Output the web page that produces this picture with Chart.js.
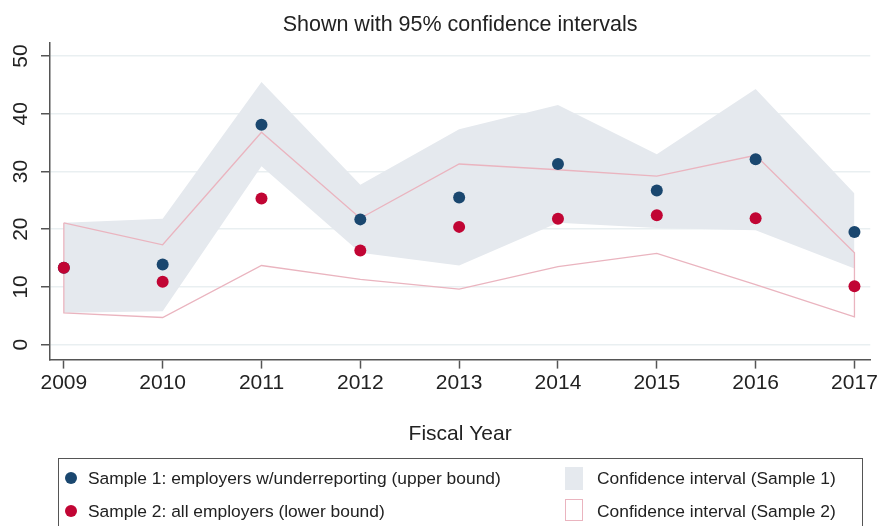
<!DOCTYPE html>
<html>
<head>
<meta charset="utf-8">
<script src="https://cdn.jsdelivr.net/npm/chart.js@4.4.1/dist/chart.umd.min.js"></script>
<style>
  html, body { margin: 0; padding: 0; background: #fff; }
  #wrap { position: relative; width: 880px; height: 526px; overflow: hidden; font-family: "Liberation Sans", Arial, sans-serif; }
  #legend { position: absolute; left: 58px; top: 458px; width: 805px; height: 90px; border: 1px solid #555; box-sizing: border-box; }
  .txt { position: absolute; font-size: 17.4px; color: #222; line-height: 20px; white-space: nowrap; }
  .dot { position: absolute; width: 12px; height: 12px; border-radius: 50%; }
  .sq { position: absolute; width: 18px; height: 23px; box-sizing: border-box; }
</style>
</head>
<body>
<div id="wrap">
  <canvas id="chart" width="880" height="526"></canvas>
  <div id="legend">
    <span class="dot" style="left:6px; top:13px; background:#1a476f;"></span>
    <span class="txt" style="left:29px; top:9px;">Sample 1: employers w/underreporting (upper bound)</span>
    <span class="dot" style="left:6px; top:46px; background:#c10534;"></span>
    <span class="txt" style="left:29px; top:42px;">Sample 2: all employers (lower bound)</span>
    <span class="sq" style="left:506px; top:8px; background:#e5e9ee;"></span>
    <span class="txt" style="left:538px; top:9px;">Confidence interval (Sample 1)</span>
    <span class="sq" style="left:506px; top:40px; height:22px; border:1px solid #eab4bf;"></span>
    <span class="txt" style="left:538px; top:42px;">Confidence interval (Sample 2)</span>
  </div>
</div>
<script>
// fiscal years and y ticks
const years = [2009, 2010, 2011, 2012, 2013, 2014, 2015, 2016, 2017];
const yTicks = [0, 10, 20, 30, 40, 50];

// Sample 1: employers w/underreporting (upper bound)
const s1 = [13.3, 13.9, 38.1, 21.7, 25.5, 31.3, 26.7, 32.1, 19.5];
const s1Upper = [21.1, 21.8, 45.5, 27.7, 37.3, 41.5, 33.0, 44.3, 26.2];
const s1Lower = [5.5, 5.8, 30.9, 15.9, 13.7, 21.1, 20.2, 19.8, 13.2];

// Sample 2: all employers (lower bound)
const s2 = [13.3, 10.9, 25.3, 16.3, 20.4, 21.8, 22.4, 21.9, 10.1];
const s2Upper = [21.1, 17.3, 36.8, 21.9, 31.3, 30.3, 29.2, 32.8, 15.9];
const s2Lower = [5.5, 4.7, 13.7, 11.3, 9.6, 13.5, 15.8, 10.4, 4.8];

const FONT = '"Liberation Sans", Arial, sans-serif';
Chart.defaults.font.family = FONT;
Chart.defaults.color = '#222';

const pts = arr => years.map((x, i) => ({ x: x, y: arr[i] }));

// closed outline for the sample 2 interval
const s2Poly = pts(s2Upper).concat(pts(s2Lower).reverse());
s2Poly.push(s2Poly[0]);

// y labels are drawn rotated, like the original
const yLabels = {
    id: 'yLabels',
    afterDraw(chart) {
        const c = chart.ctx;
        const s = chart.scales.y;
        c.save();
        c.font = '21px ' + FONT;
        c.fillStyle = '#222';
        c.textAlign = 'center';
        c.textBaseline = 'middle';
        yTicks.forEach(v => {
            c.save();
            c.translate(21, s.getPixelForValue(v));
            c.rotate(-Math.PI / 2);
            c.fillText(String(v), 0, 0);
            c.restore();
        });
        c.restore();
    }
};

const ctx = document.getElementById('chart').getContext('2d');
const chart = new Chart(ctx, {
    type: 'line',
    data: {
        datasets: [
            {
                data: pts(s1Upper),
                fill: '+1',
                backgroundColor: '#e5e9ee',
                borderWidth: 0,
                pointRadius: 0,
                order: 5
            },
            {
                data: pts(s1Lower),
                fill: false,
                borderWidth: 0,
                pointRadius: 0,
                order: 4
            },
            {
                data: s2Poly,
                fill: false,
                borderColor: '#eab4bf',
                borderWidth: 1.3,
                pointRadius: 0,
                order: 3
            },
            {
                data: pts(s1),
                showLine: false,
                pointRadius: 6,
                pointBorderWidth: 0,
                pointBackgroundColor: '#1a476f',
                order: 2
            },
            {
                data: pts(s2),
                showLine: false,
                pointRadius: 6,
                pointBorderWidth: 0,
                pointBackgroundColor: '#c10534',
                order: 1
            }
        ]
    },
    options: {
        responsive: false,
        animation: false,
        layout: {
            padding: { left: 0, right: 8, top: 0, bottom: 79 }
        },
        plugins: {
            legend: { display: false },
            tooltip: { enabled: false },
            title: {
                display: true,
                fullSize: false,
                text: 'Shown with 95% confidence intervals',
                color: '#222',
                font: { size: 21.5, weight: 'normal' },
                padding: { top: 12, bottom: 5 }
            }
        },
        scales: {
            x: {
                type: 'linear',
                min: 2008.86,
                max: 2017.16,
                afterBuildTicks: s => { s.ticks = years.map(v => ({ value: v })); },
                grid: { drawOnChartArea: false, tickLength: 9, tickColor: '#555', tickWidth: 1.5 },
                border: { color: '#555', width: 1.5 },
                ticks: {
                    color: '#222',
                    font: { size: 21 },
                    padding: 2,
                    maxRotation: 0,
                    callback: v => String(v)
                },
                title: {
                    display: true,
                    text: 'Fiscal Year',
                    color: '#222',
                    font: { size: 21 },
                    padding: { top: 24, bottom: 0 }
                }
            },
            y: {
                min: -2.6,
                max: 52.3,
                afterBuildTicks: s => { s.ticks = yTicks.map(v => ({ value: v })); },
                grid: { color: '#e9eff1', lineWidth: 1.5, tickLength: 9, tickColor: '#555', tickWidth: 1.5 },
                border: { color: '#555', width: 1.5 },
                ticks: { display: false },
                afterFit: s => { s.width = 50; }
            }
        }
    },
    plugins: [yLabels]
});
</script>
</body>
</html>
